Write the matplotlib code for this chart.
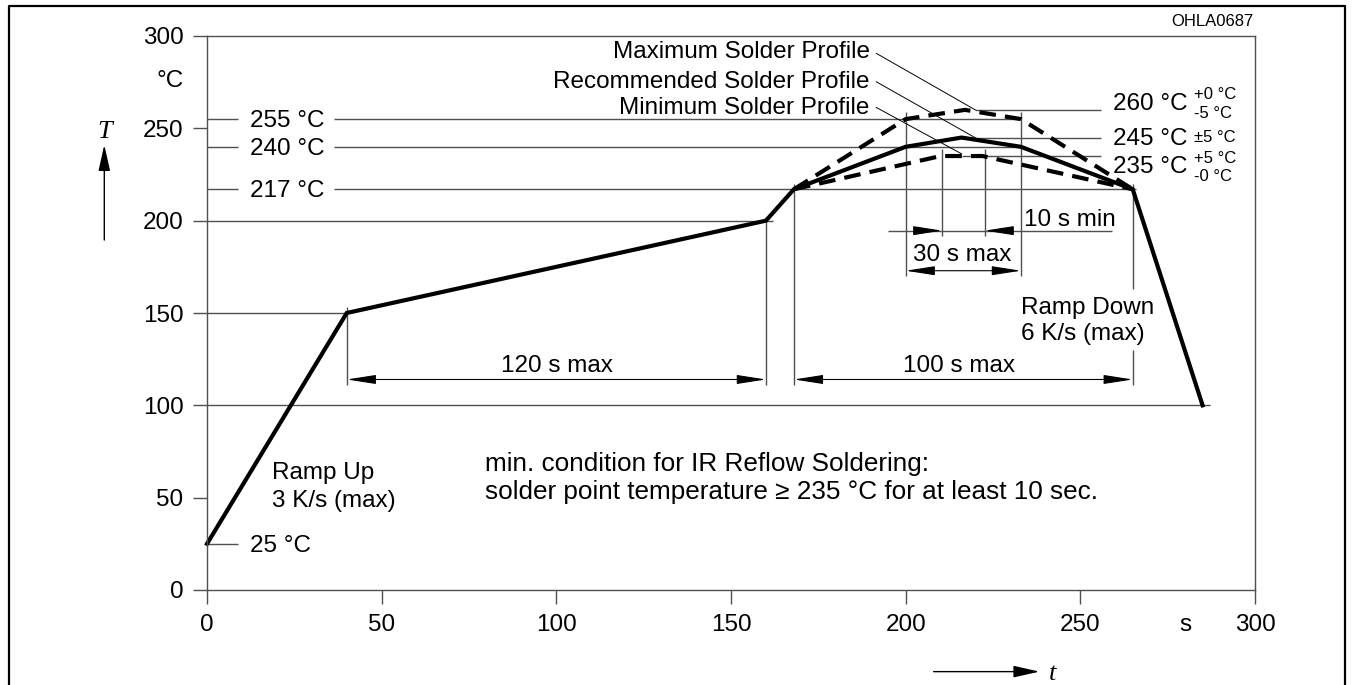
import matplotlib
matplotlib.use("Agg")
import matplotlib.pyplot as plt
from matplotlib.lines import Line2D

plt.rcParams['font.family'] = ['Liberation Sans', 'DejaVu Sans']

# ---- data ----
rec_t = [0, 40, 160, 168, 200, 216, 233, 265, 285]
rec_T = [25, 150, 200, 217, 240, 245, 240, 217, 100]
max_t = [168, 200, 217, 233, 265]
max_T = [217, 255, 260, 255, 217]
min_t = [168, 210, 222, 265]
min_T = [217, 235, 235, 217]
xticks = [0, 50, 100, 150, 200, 250, 300]
yticks = [0, 50, 100, 150, 200, 250, 300]

FS = 17.5
GREY = '#505050'
DY = -1.2  # small vertical correction so that cap centres sit on the given y

fig = plt.figure(figsize=(13.54, 6.85), dpi=100)
ax = fig.add_axes([207/1354, 95/685, 1048/1354, 554/685])
ax.set_xlim(0, 300)
ax.set_ylim(0, 300)
for s in ax.spines.values():
    s.set_color(GREY)
    s.set_linewidth(1.0)
ax.set_xticks(xticks)
ax.set_yticks(yticks)
ax.tick_params(direction='out', length=10, width=1.0, color=GREY,
               labelsize=FS, pad=7, labelcolor='black')

def gl(xs, ys, **kw):
    d = dict(color=GREY, lw=1.0, clip_on=False, solid_capstyle='butt')
    d.update(kw)
    ax.plot(xs, ys, **d)

# horizontal reference lines
gl([0, 40], [150, 150])
gl([0, 162], [200, 200])
gl([0, 287], [100, 100])
gl([0, 9], [25, 25])
for v, xe in [(255, 233), (240, 233), (217, 266)]:
    gl([0, 9], [v, v])
    gl([36.3, xe], [v, v])
gl([220, 256], [260, 260])
gl([216, 256], [245, 245])
gl([216, 256], [235, 235])
# vertical reference lines
gl([40, 40], [111, 153])
gl([160, 160], [111, 202])
gl([168, 168], [111, 220])
gl([200, 200], [170, 258.6])
gl([233, 233], [170, 258.6])
gl([210.5, 210.5], [191.7, 238.6])
gl([222.6, 222.6], [191.7, 238.6])
gl([265, 265], [111, 130])
gl([265, 265], [163, 220])
gl([195, 259], [194.6, 194.6])

# profiles
ax.plot(rec_t, rec_T, color='black', lw=3, solid_joinstyle='miter', clip_on=False)
ax.plot(max_t, max_T, color='black', lw=3, dashes=(4, 2.2), clip_on=False)
ax.plot(min_t, min_T, color='black', lw=3, dashes=(4, 2.2), clip_on=False)

# leader lines
ax.plot([191.6, 220.2], [290.6, 259.7], color='black', lw=0.7)
ax.plot([191.6, 220.2], [275.2, 244.6], color='black', lw=0.7)
ax.plot([191.6, 216.0], [261.3, 236.2], color='black', lw=0.7)

def arrow(x0, y0, x1, y1, style, lw=0.8, hl=18, hw=2.8):
    ax.annotate('', xy=(x1, y1), xytext=(x0, y0), annotation_clip=False,
                arrowprops=dict(arrowstyle=f'{style},head_length={hl},head_width={hw}',
                                color='black', lw=lw, shrinkA=0, shrinkB=0,
                                mutation_scale=1))

arrow(40, 114, 160, 114, '<|-|>')
arrow(168, 114, 265, 114, '<|-|>')
arrow(200, 172.9, 233, 172.9, '<|-|>')
arrow(203, 194.6, 210.5, 194.6, '-|>')
arrow(229.5, 194.6, 222.6, 194.6, '-|>')

# axis arrows T, t
arrow(-29.4, 189.5, -29.4, 241, '-|>', lw=1.0, hl=16, hw=3.6)
arrow(208, -44.2, 238.3, -44.2, '-|>', lw=1.0, hl=16, hw=3.6)
ax.text(-29.4, 249 + DY, 'T', fontsize=19, family='Liberation Serif', style='italic',
        ha='center', va='center', clip_on=False)
ax.text(242, -44.2 + DY, 't', fontsize=19, family='Liberation Serif', style='italic',
        ha='center', va='center', clip_on=False)

# unit labels
ax.annotate('°C', xy=(0, 277 + DY), xycoords='data', xytext=(-17, 0),
            textcoords='offset points', ha='right', va='center', fontsize=FS,
            annotation_clip=False)
ax.annotate('s', xy=(280, 0), xycoords='data', xytext=(0, -17),
            textcoords='offset points', ha='center', va='top', fontsize=FS,
            annotation_clip=False)

def txt(x, y, s, ha='left', fs=FS):
    ax.text(x, y + DY, s, ha=ha, va='center', fontsize=fs, clip_on=False)

txt(12.3, 255, '255 °C')
txt(12.3, 240, '240 °C')
txt(12.3, 217, '217 °C')
txt(12.3, 25, '25 °C')
txt(18.6, 64.4, 'Ramp Up')
txt(18.6, 49.6, '3 K/s (max)')
txt(233, 154.1, 'Ramp Down')
txt(233, 139.9, '6 K/s (max)')
txt(79.5, 69.5, 'min. condition for IR Reflow Soldering:', fs=18.8)
txt(79.5, 54.5, 'solder point temperature ≥ 235 °C for at least 10 sec.', fs=18.8)
txt(100.2, 122.4, '120 s max', ha='center')
txt(215.4, 122.4, '100 s max', ha='center')
txt(216.2, 182.6, '30 s max', ha='center')
txt(234, 201.8, '10 s min')
txt(189.7, 292.5, 'Maximum Solder Profile', ha='right')
txt(189.7, 276.5, 'Recommended Solder Profile', ha='right')
txt(189.7, 262.0, 'Minimum Solder Profile', ha='right')
txt(259.4, 264.4, '260 °C')
txt(259.4, 245.5, '245 °C')
txt(259.4, 230.0, '235 °C')
txt(282.6, 269.3, '+0 °C', fs=12)
txt(282.6, 259.5, '-5 °C', fs=12)
txt(282.6, 246.3, '±5 °C', fs=12)
txt(282.6, 235.0, '+5 °C', fs=12)
txt(282.6, 225.0, '-0 °C', fs=12)

fig.text(1253/1354, 1 - 22/685, 'OHLA0687', ha='right', va='center', fontsize=12)

# outer frame
fig.add_artist(Line2D([9/1354, 9/1354, 1345/1354, 1345/1354],
                      [-0.01, 1 - 6/685, 1 - 6/685, -0.01],
                      transform=fig.transFigure, color='black', lw=1.6))

fig.savefig('out.png', dpi=100)
